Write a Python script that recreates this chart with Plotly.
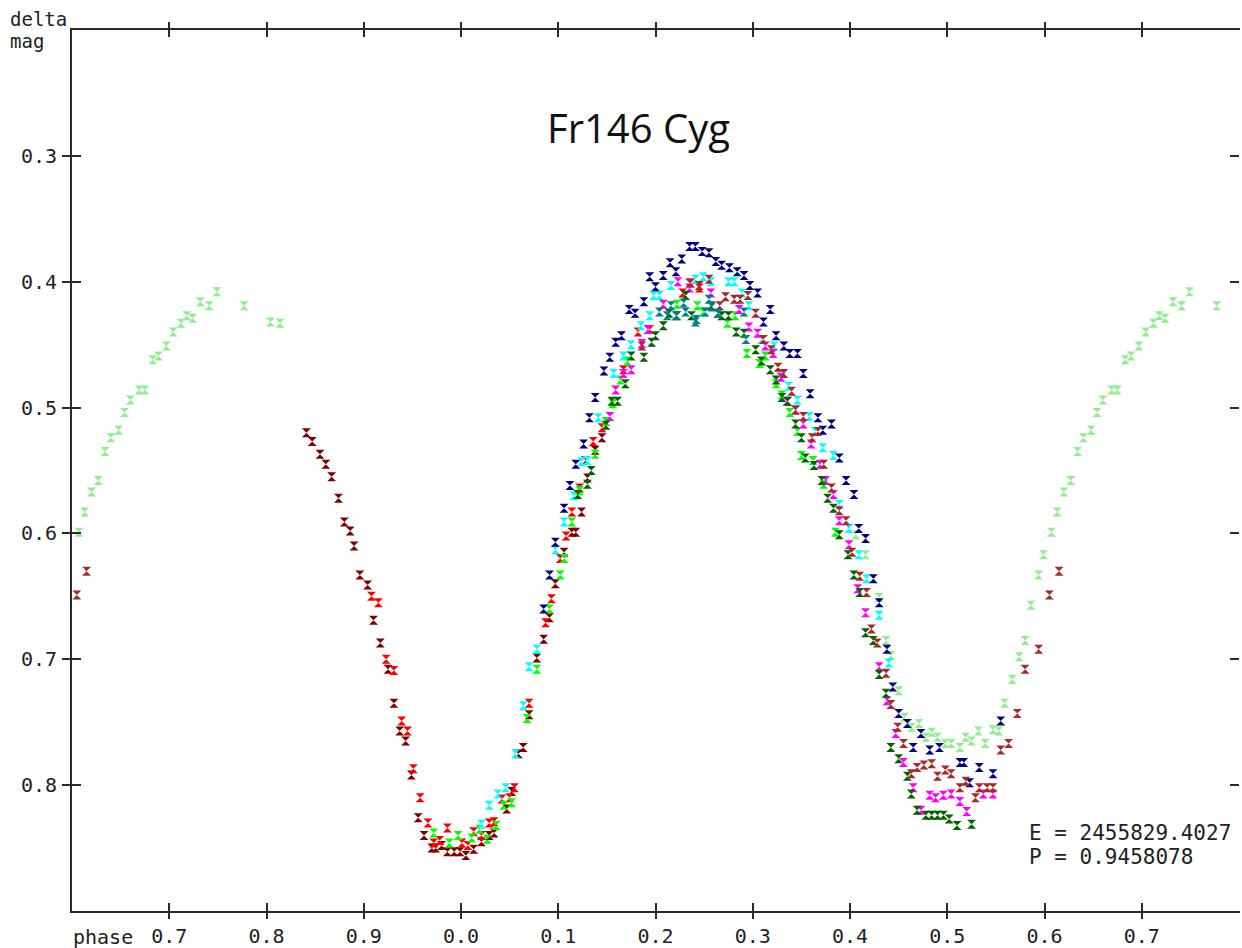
import plotly.graph_objects as go

# ---------------- data (phase in [0,1), delta mag) ----------------
lightgreen_phase = [0.406, 0.416, 0.430, 0.437, 0.442, 0.450, 0.456, 0.463, 0.471, 0.478, 0.484, 0.490,
                    0.498, 0.504, 0.513, 0.519, 0.525, 0.532, 0.539, 0.547, 0.553, 0.559, 0.567, 0.574,
                    0.580, 0.586, 0.594, 0.599, 0.607, 0.613, 0.620, 0.627, 0.634, 0.640, 0.648, 0.654,
                    0.660, 0.669, 0.675, 0.683, 0.689, 0.697, 0.704, 0.712, 0.718, 0.724, 0.732, 0.741,
                    0.749, 0.777, 0.804, 0.814]
lightgreen_mag = [0.601, 0.617, 0.651, 0.685, 0.697, 0.725, 0.746, 0.754, 0.751, 0.762, 0.758, 0.762,
                  0.767, 0.767, 0.770, 0.762, 0.765, 0.757, 0.767, 0.756, 0.757, 0.735, 0.716, 0.698,
                  0.685, 0.657, 0.633, 0.617, 0.599, 0.583, 0.567, 0.558, 0.535, 0.524, 0.518, 0.504,
                  0.494, 0.486, 0.486, 0.462, 0.459, 0.451, 0.440, 0.433, 0.427, 0.429, 0.416, 0.419,
                  0.408, 0.419, 0.432, 0.433]

maroon_phase = [0.841, 0.847, 0.855, 0.861, 0.867, 0.874, 0.880, 0.886, 0.890, 0.896, 0.904, 0.910,
                0.917, 0.925, 0.931, 0.937, 0.943, 0.949, 0.956, 0.962, 0.970, 0.974, 0.980, 0.986,
                0.993, 0.999, 0.005, 0.013, 0.021, 0.029, 0.034, 0.047, 0.052, 0.059, 0.064, 0.070,
                0.078, 0.085, 0.091, 0.097, 0.106, 0.114, 0.118, 0.124, 0.130, 0.138, 0.145]
maroon_mag = [0.520, 0.527, 0.537, 0.545, 0.555, 0.572, 0.591, 0.598, 0.610, 0.633, 0.641, 0.669,
              0.687, 0.708, 0.735, 0.757, 0.765, 0.792, 0.826, 0.840, 0.850, 0.850, 0.848, 0.853,
              0.853, 0.853, 0.856, 0.851, 0.845, 0.840, 0.838, 0.819, 0.805, 0.775, 0.770, 0.744,
              0.699, 0.684, 0.667, 0.640, 0.615, 0.599, 0.599, 0.583, 0.556, 0.534, 0.524]

red_phase = [0.908, 0.915, 0.923, 0.931, 0.939, 0.945, 0.951, 0.958, 0.966, 0.972, 0.978, 0.986,
             0.001, 0.007, 0.013, 0.021, 0.029, 0.034, 0.042, 0.050, 0.055, 0.070, 0.087, 0.093,
             0.102, 0.108, 0.114, 0.122, 0.128, 0.136, 0.145, 0.167, 0.182, 0.194, 0.228, 0.236, 0.245]
red_mag = [0.650, 0.655, 0.700, 0.709, 0.749, 0.757, 0.787, 0.810, 0.830, 0.846, 0.844, 0.834,
           0.846, 0.848, 0.837, 0.840, 0.830, 0.829, 0.811, 0.810, 0.802, 0.735, 0.671, 0.652,
           0.620, 0.602, 0.583, 0.564, 0.542, 0.527, 0.516, 0.470, 0.440, 0.438, 0.409, 0.401, 0.405]

lime_phase = [0.972, 0.988, 0.997, 0.011, 0.019, 0.027, 0.036, 0.044, 0.052, 0.068, 0.078, 0.091,
              0.102, 0.106, 0.114, 0.122, 0.138, 0.149, 0.156, 0.164, 0.171, 0.222, 0.243, 0.249,
              0.274, 0.282, 0.294, 0.307, 0.313, 0.324, 0.330, 0.338, 0.346, 0.350, 0.362, 0.373, 0.385]
lime_mag = [0.838, 0.846, 0.840, 0.842, 0.835, 0.843, 0.832, 0.816, 0.814, 0.747, 0.708, 0.660,
            0.633, 0.620, 0.591, 0.566, 0.537, 0.511, 0.497, 0.478, 0.463, 0.418, 0.419, 0.424,
            0.433, 0.427, 0.457, 0.465, 0.459, 0.481, 0.490, 0.504, 0.519, 0.538, 0.542, 0.561, 0.599]

cyan_phase = [0.021, 0.029, 0.038, 0.046, 0.056, 0.064, 0.070, 0.078, 0.097, 0.106, 0.116, 0.124,
              0.130, 0.141, 0.157, 0.167, 0.175, 0.185, 0.194, 0.198, 0.204, 0.216, 0.241, 0.249,
              0.257, 0.275, 0.281, 0.289, 0.296, 0.309, 0.322, 0.337, 0.346, 0.358, 0.364, 0.372,
              0.383, 0.389, 0.399, 0.409, 0.417, 0.430, 0.440]
cyan_mag = [0.831, 0.816, 0.807, 0.802, 0.775, 0.737, 0.706, 0.692, 0.613, 0.591, 0.570, 0.543,
            0.542, 0.508, 0.473, 0.459, 0.450, 0.435, 0.427, 0.411, 0.411, 0.403, 0.398, 0.396,
            0.400, 0.400, 0.400, 0.409, 0.419, 0.446, 0.451, 0.483, 0.494, 0.507, 0.519, 0.532,
            0.538, 0.577, 0.596, 0.617, 0.636, 0.665, 0.703]

navy_phase = [0.085, 0.091, 0.097, 0.106, 0.112, 0.118, 0.126, 0.132, 0.138, 0.147, 0.153, 0.159,
              0.165, 0.173, 0.179, 0.188, 0.194, 0.200, 0.208, 0.215, 0.221, 0.227, 0.235, 0.241,
              0.248, 0.255, 0.262, 0.268, 0.276, 0.284, 0.291, 0.297, 0.305, 0.311, 0.318, 0.324,
              0.332, 0.338, 0.346, 0.352, 0.359, 0.367, 0.372, 0.381, 0.389, 0.396, 0.404, 0.409,
              0.416, 0.424, 0.430, 0.438, 0.444, 0.450, 0.459, 0.465, 0.473, 0.482, 0.492, 0.513,
              0.517, 0.523, 0.533, 0.547, 0.555]
navy_mag = [0.660, 0.633, 0.607, 0.580, 0.562, 0.545, 0.529, 0.508, 0.492, 0.471, 0.460, 0.448,
            0.443, 0.422, 0.425, 0.416, 0.396, 0.404, 0.395, 0.385, 0.392, 0.382, 0.372, 0.372,
            0.376, 0.377, 0.384, 0.387, 0.389, 0.392, 0.395, 0.403, 0.409, 0.432, 0.422, 0.443,
            0.451, 0.457, 0.457, 0.473, 0.489, 0.508, 0.518, 0.513, 0.540, 0.558, 0.569, 0.596,
            0.604, 0.636, 0.655, 0.692, 0.722, 0.743, 0.751, 0.770, 0.759, 0.772, 0.770, 0.782,
            0.782, 0.798, 0.786, 0.791, 0.749]

magenta_phase = [0.153, 0.159, 0.167, 0.175, 0.186, 0.192, 0.208, 0.223, 0.235, 0.257, 0.286, 0.296,
                 0.305, 0.313, 0.321, 0.329, 0.335, 0.344, 0.352, 0.360, 0.369, 0.375, 0.383, 0.389,
                 0.399, 0.408, 0.416, 0.430, 0.438, 0.447, 0.455, 0.465, 0.473, 0.482, 0.488, 0.496,
                 0.504, 0.513, 0.520, 0.537, 0.547]
magenta_mag = [0.507, 0.486, 0.473, 0.470, 0.449, 0.438, 0.418, 0.400, 0.405, 0.409, 0.422, 0.436,
               0.441, 0.451, 0.457, 0.476, 0.495, 0.502, 0.513, 0.529, 0.545, 0.558, 0.569, 0.590,
               0.609, 0.644, 0.663, 0.706, 0.733, 0.759, 0.782, 0.802, 0.820, 0.808, 0.810, 0.808,
               0.807, 0.813, 0.821, 0.807, 0.807]

darkgreen_phase = [0.120, 0.130, 0.134, 0.149, 0.155, 0.161, 0.169, 0.175, 0.188, 0.196, 0.200, 0.208,
                   0.214, 0.222, 0.231, 0.237, 0.257, 0.264, 0.268, 0.275, 0.283, 0.291, 0.303, 0.309,
                   0.318, 0.324, 0.330, 0.336, 0.344, 0.350, 0.354, 0.363, 0.371, 0.377, 0.383, 0.389,
                   0.398, 0.404, 0.410, 0.416, 0.424, 0.430, 0.437, 0.442, 0.450, 0.459, 0.463, 0.469,
                   0.478, 0.484, 0.490, 0.496, 0.502, 0.510, 0.525]
darkgreen_mag = [0.569, 0.561, 0.550, 0.514, 0.495, 0.495, 0.481, 0.459, 0.460, 0.448, 0.443, 0.435,
                 0.425, 0.427, 0.411, 0.427, 0.419, 0.425, 0.427, 0.427, 0.440, 0.441, 0.454, 0.463,
                 0.470, 0.478, 0.492, 0.495, 0.513, 0.524, 0.540, 0.546, 0.558, 0.572, 0.580, 0.601,
                 0.617, 0.633, 0.647, 0.679, 0.685, 0.712, 0.727, 0.770, 0.779, 0.793, 0.807, 0.820,
                 0.824, 0.824, 0.824, 0.824, 0.827, 0.832, 0.831]

brown_phase = [0.186, 0.235, 0.245, 0.255, 0.266, 0.272, 0.281, 0.287, 0.295, 0.303, 0.311, 0.319,
               0.326, 0.332, 0.340, 0.344, 0.352, 0.361, 0.367, 0.373, 0.381, 0.389, 0.396, 0.402,
               0.410, 0.417, 0.422, 0.428, 0.437, 0.442, 0.449, 0.455, 0.463, 0.469, 0.476, 0.484,
               0.490, 0.498, 0.504, 0.513, 0.519, 0.529, 0.533, 0.541, 0.547, 0.555, 0.563, 0.572,
               0.580, 0.594, 0.605, 0.615]
brown_mag = [0.451, 0.401, 0.403, 0.398, 0.419, 0.412, 0.414, 0.414, 0.411, 0.425, 0.446, 0.454,
             0.468, 0.473, 0.487, 0.502, 0.507, 0.524, 0.519, 0.545, 0.564, 0.582, 0.590, 0.615,
             0.634, 0.647, 0.676, 0.687, 0.711, 0.736, 0.754, 0.767, 0.791, 0.786, 0.784, 0.783,
             0.793, 0.788, 0.791, 0.802, 0.797, 0.810, 0.802, 0.802, 0.802, 0.772, 0.767, 0.743,
             0.708, 0.692, 0.649, 0.630]

teal_phase = [0.204, 0.212, 0.216, 0.221, 0.229, 0.231, 0.241, 0.242, 0.251, 0.255, 0.258, 0.265,
              0.291, 0.293]
teal_mag = [0.424, 0.427, 0.419, 0.427, 0.417, 0.424, 0.432, 0.430, 0.424, 0.414, 0.420, 0.425,
            0.424, 0.446]

series = [
    ("lightgreen", "#90EE90", lightgreen_phase, lightgreen_mag),
    ("maroon", "#800000", maroon_phase, maroon_mag),
    ("red", "#FF0000", red_phase, red_mag),
    ("lime", "#00FF00", lime_phase, lime_mag),
    ("cyan", "#00FFFF", cyan_phase, cyan_mag),
    ("navy", "#000080", navy_phase, navy_mag),
    ("magenta", "#FF00FF", magenta_phase, magenta_mag),
    ("darkgreen", "#006400", darkgreen_phase, darkgreen_mag),
    ("brown", "#A52A2A", brown_phase, brown_mag),
    ("teal", "#008080", teal_phase, teal_mag),
]

X_MIN, X_MAX = -0.4, 0.8
Y_TOP, Y_BOTTOM = 0.2, 0.9

x_tickvals = [-0.3, -0.2, -0.1, 0.0, 0.1, 0.2, 0.3, 0.4, 0.5, 0.6, 0.7]
x_ticktext = ["0.7", "0.8", "0.9", "0.0", "0.1", "0.2", "0.3", "0.4", "0.5", "0.6", "0.7"]
y_tickvals = [0.3, 0.4, 0.5, 0.6, 0.7, 0.8]
y_ticktext = ["0.3", "0.4", "0.5", "0.6", "0.7", "0.8"]


def unfold(phases, mags):
    """Place each phase point at every cycle position that falls in the plotted window."""
    xs, ys = [], []
    for p, m in zip(phases, mags):
        for shift in (-1.0, 0.0):
            x = p + shift
            if X_MIN < x <= X_MAX:
                xs.append(x)
                ys.append(m)
    return xs, ys


fig = go.Figure()
for name, color, ph, mg in series:
    xs, ys = unfold(ph, mg)
    fig.add_trace(go.Scatter(x=xs, y=ys, mode="markers", name=name, showlegend=False,
                             marker=dict(symbol="hourglass", size=9, color=color,
                                         line=dict(width=0))))

# dummy traces so the overlay axes (used for crossing / mirrored ticks) are drawn
for xa, ya in [("x2", "y"), ("x3", "y"), ("x4", "y"), ("x", "y2"), ("x", "y3")]:
    fig.add_trace(go.Scatter(x=[None], y=[None], xaxis=xa, yaxis=ya, mode="markers",
                             showlegend=False, hoverinfo="skip"))

AX = "#2a2a2a"
CLEAR = "rgba(0,0,0,0)"
MONO = "DejaVu Sans Mono"
tickfont = dict(family=MONO, size=20, color="#222222")

common_x = dict(range=[X_MIN, X_MAX], tickvals=x_tickvals, showgrid=False, zeroline=False,
                tickcolor=AX, tickwidth=2, automargin=False)
common_y = dict(range=[Y_BOTTOM, Y_TOP], tickvals=y_tickvals, showgrid=False, zeroline=False,
                tickcolor=AX, tickwidth=2, automargin=False)

fig.update_layout(
    width=1242, height=948,
    margin=dict(l=72, r=3, t=30, b=37, autoexpand=False),
    paper_bgcolor="white", plot_bgcolor="white",
    xaxis=dict(**common_x, side="bottom", anchor="y", ticktext=x_ticktext, ticks="outside",
               ticklen=6, showline=True, linecolor=AX, linewidth=2, tickfont=tickfont),
    xaxis2=dict(**common_x, overlaying="x", side="bottom", anchor="y", ticks="inside", ticklen=8,
                showticklabels=False, showline=False),
    xaxis3=dict(**common_x, overlaying="x", side="top", anchor="y", ticks="outside", ticklen=6,
                showticklabels=False, showline=True, linecolor=AX, linewidth=2),
    xaxis4=dict(**common_x, overlaying="x", side="top", anchor="y", ticks="inside", ticklen=7,
                showticklabels=False, showline=False),
    yaxis=dict(**common_y, side="left", anchor="x", ticktext=y_ticktext, ticks="inside",
               ticklen=9, ticklabelstandoff=9, showline=True, linecolor=AX, linewidth=2,
               tickfont=tickfont),
    yaxis2=dict(**common_y, overlaying="y", side="left", anchor="x", ticks="outside", ticklen=9,
                showticklabels=False, showline=False),
    # inside ticks mirrored onto the right edge, with an invisible axis line
    yaxis3=dict(**common_y, overlaying="y", side="left", anchor="x", ticks="inside", ticklen=9,
                showticklabels=False, showline=True, linecolor=CLEAR, linewidth=1,
                mirror="ticks"),
)

fig.add_annotation(text="Fr146 Cyg", xref="paper", yref="paper", x=0.4855, y=0.889,
                   xanchor="center", yanchor="middle", showarrow=False,
                   font=dict(family="Open Sans", size=40, color="#111111"))
fig.add_annotation(text="E = 2455829.4027", xref="paper", yref="paper",
                   x=0.8185, y=(911 - 833) / 881, xanchor="left", yanchor="middle",
                   showarrow=False, font=dict(family=MONO, size=21, color="#222222"))
fig.add_annotation(text="P = 0.9458078", xref="paper", yref="paper",
                   x=0.8185, y=(911 - 857) / 881, xanchor="left", yanchor="middle",
                   showarrow=False, font=dict(family=MONO, size=21, color="#222222"))
fig.add_annotation(text="phase", xref="paper", yref="paper", x=-0.001, y=-0.0295,
                   xanchor="left", yanchor="middle", showarrow=False, font=tickfont)
fig.add_annotation(text="delta", xref="paper", yref="paper", x=-0.055, y=(911 - 19) / 881,
                   xanchor="left", yanchor="middle", showarrow=False,
                   font=dict(family=MONO, size=19, color="#222222"))
fig.add_annotation(text="mag", xref="paper", yref="paper", x=-0.055, y=(911 - 41) / 881,
                   xanchor="left", yanchor="middle", showarrow=False,
                   font=dict(family=MONO, size=19, color="#222222"))

fig.write_html("out.html")
